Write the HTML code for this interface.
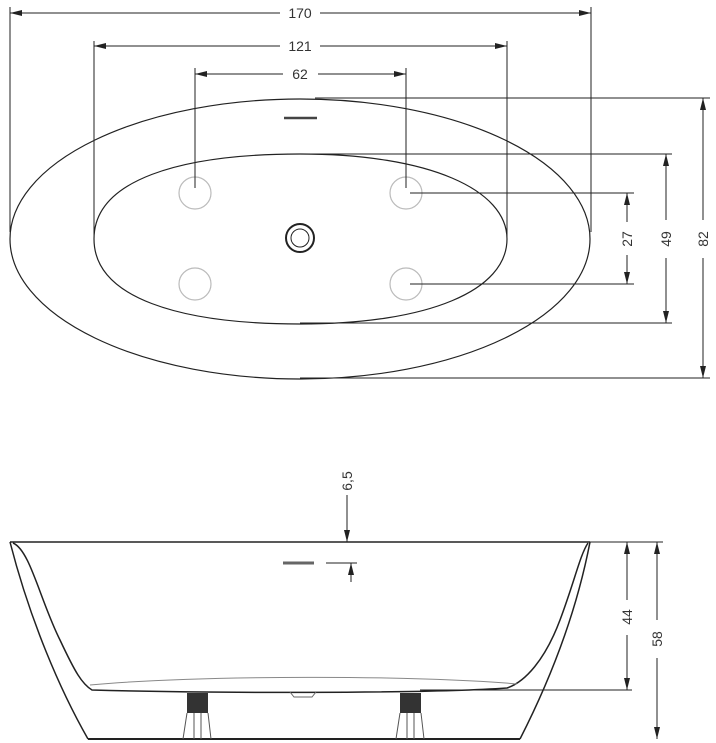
<!DOCTYPE html>
<html><head><meta charset="utf-8"><style>
html,body{margin:0;padding:0;background:#fff}
svg{display:block}
text{font-family:"Liberation Sans",sans-serif;font-size:14px;fill:#333}
</style></head><body>
<svg width="716" height="743" viewBox="0 0 716 743" xmlns="http://www.w3.org/2000/svg">
<defs>
<marker id="a" markerWidth="12" markerHeight="6" refX="12" refY="3" orient="auto" markerUnits="userSpaceOnUse"><path d="M0,0 L12,3 L0,6 Z" fill="#222"/></marker>
</defs>
<g stroke="#222" stroke-width="1" fill="none">
<!-- top view -->
<ellipse cx="300" cy="239" rx="290" ry="140" stroke-width="1.2"/>
<path d="M94,239 C94,180 180,154 300,154 C430,154 507,190 507,239 C507,290 430,324 300,324 C180,324 94,298 94,239 Z" stroke-width="1.2"/>
<g stroke="#bbb" stroke-width="1.2">
<circle cx="195" cy="193" r="16"/><circle cx="406" cy="193" r="16"/>
<circle cx="195" cy="284" r="16"/><circle cx="406" cy="284" r="16"/>
</g>
<circle cx="300" cy="238" r="14" stroke-width="2"/>
<circle cx="300" cy="238" r="9"/>
<line x1="284" y1="118" x2="317" y2="118" stroke-width="2.5" stroke="#444"/>
<!-- horizontal dims -->
<line x1="10" y1="7" x2="10" y2="232"/><line x1="591" y1="7" x2="591" y2="232"/>
<line x1="10" y1="13" x2="280" y2="13" marker-start="url(#a)" style="marker-start:none"/>
<line x1="280" y1="13" x2="10" y2="13" marker-end="url(#a)"/>
<line x1="320" y1="13" x2="591" y2="13" marker-end="url(#a)"/>
<line x1="94" y1="41" x2="94" y2="242"/><line x1="507" y1="41" x2="507" y2="242"/>
<line x1="280" y1="46" x2="94" y2="46" marker-end="url(#a)"/>
<line x1="320" y1="46" x2="507" y2="46" marker-end="url(#a)"/>
<line x1="195" y1="68" x2="195" y2="188"/><line x1="406" y1="68" x2="406" y2="188"/>
<line x1="283" y1="74" x2="195" y2="74" marker-end="url(#a)"/>
<line x1="318" y1="74" x2="406" y2="74" marker-end="url(#a)"/>
<!-- vertical dims -->
<line x1="315" y1="98" x2="710" y2="98"/><line x1="300" y1="378" x2="710" y2="378"/>
<line x1="703" y1="220" x2="703" y2="98" marker-end="url(#a)"/>
<line x1="703" y1="258" x2="703" y2="378" marker-end="url(#a)"/>
<line x1="300" y1="154" x2="672" y2="154"/><line x1="300" y1="323" x2="672" y2="323"/>
<line x1="666" y1="220" x2="666" y2="154" marker-end="url(#a)"/>
<line x1="666" y1="258" x2="666" y2="323" marker-end="url(#a)"/>
<line x1="410" y1="193" x2="634" y2="193"/><line x1="410" y1="284" x2="634" y2="284"/>
<line x1="627" y1="222" x2="627" y2="193" marker-end="url(#a)"/>
<line x1="627" y1="255" x2="627" y2="284" marker-end="url(#a)"/>
<!-- side view -->
<line x1="10" y1="542" x2="590" y2="542" stroke-width="1.5"/>
<line x1="88" y1="739" x2="520" y2="739" stroke-width="2"/>
<path d="M10,542 C30,620 60,690 88,739" stroke-width="1.5"/>
<path d="M590,542 C575,620 545,690 520,739" stroke-width="1.5"/>
<path d="M13,543 C30,550 40,600 60,640 C75,672 82,684 92,690 C200,693 420,694 507,688 C525,682 545,660 560,620 C575,580 580,555 588,543" stroke-width="1.5"/>
<path d="M90,685 C200,675 420,675 517,684" stroke="#888"/>
<path d="M290,692 L294,697 L312,697 L316,692" stroke="#666"/>
<rect x="187" y="693" width="21" height="20" fill="#333" stroke="none"/>
<rect x="400" y="693" width="21" height="20" fill="#333" stroke="none"/>
<path d="M187,713 L183,739 M208,713 L211,739 M194,713 L194,739 M201,713 L201,739" stroke="#555"/>
<path d="M400,713 L396,739 M421,713 L424,739 M407,713 L407,739 M414,713 L414,739" stroke="#555"/>
<line x1="283" y1="563" x2="314" y2="563" stroke="#666" stroke-width="3"/>
<line x1="347" y1="495" x2="347" y2="542" marker-end="url(#a)"/>
<line x1="326" y1="563" x2="357" y2="563"/>
<line x1="347" y1="582" x2="563" y2="563" style="display:none"/>
<line x1="351" y1="582" x2="351" y2="563" marker-end="url(#a)"/>
<line x1="590" y1="542" x2="663" y2="542"/>
<line x1="420" y1="690" x2="632" y2="690"/>
<line x1="627" y1="600" x2="627" y2="542" marker-end="url(#a)"/>
<line x1="627" y1="635" x2="627" y2="690" marker-end="url(#a)"/>
<line x1="657" y1="620" x2="657" y2="542" marker-end="url(#a)"/>
<line x1="657" y1="658" x2="657" y2="739" marker-end="url(#a)"/>
</g>
<text x="300" y="18" text-anchor="middle">170</text>
<text x="300" y="51" text-anchor="middle">121</text>
<text x="300" y="79" text-anchor="middle">62</text>
<text transform="translate(708,239) rotate(-90)" text-anchor="middle">82</text>
<text transform="translate(671,239) rotate(-90)" text-anchor="middle">49</text>
<text transform="translate(632,239) rotate(-90)" text-anchor="middle">27</text>
<text transform="translate(352,481) rotate(-90)" text-anchor="middle">6,5</text>
<text transform="translate(632,617) rotate(-90)" text-anchor="middle">44</text>
<text transform="translate(662,639) rotate(-90)" text-anchor="middle">58</text>
</svg>
</body></html>
